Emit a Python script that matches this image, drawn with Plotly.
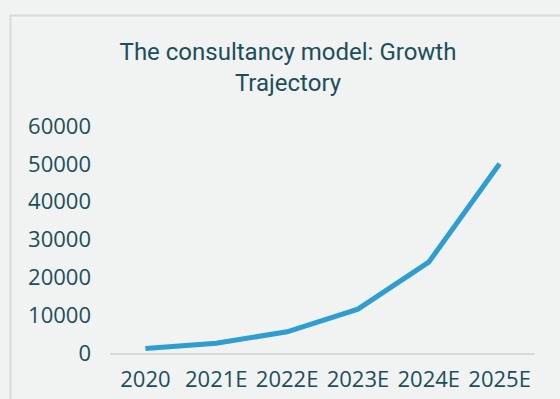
import plotly.graph_objects as go

categories = ["2020", "2021E", "2022E", "2023E", "2024E", "2025E"]
values = [1200, 2600, 5600, 11600, 24000, 50000]
y_ticks = [0, 10000, 20000, 30000, 40000, 50000, 60000]
y_tick_labels = ["0", "10000", "20000", "30000", "40000", "50000", "60000"]

TEXT = "#1b4f5b"
BG = "#f1f2f2"
FONT = "Open Sans"
TFONT = "Roboto"

W, H = 560, 399
L, R, T, B = 110, 25, 126, 46
pw, ph = W - L - R, H - T - B

def px_x(x):
    return (x - L) / pw

def px_y(y):
    return (H - B - y) / ph

fig = go.Figure(go.Scatter(
    x=categories, y=values, mode="lines",
    line=dict(color="#2e9dd0", width=5), hoverinfo="skip",
))

fig.update_layout(
    width=W, height=H,
    margin=dict(l=L, r=R, t=T, b=B, autoexpand=False),
    paper_bgcolor=BG, plot_bgcolor=BG,
    showlegend=False,
    font=dict(family=FONT, color=TEXT, size=22),
    title=dict(
        text="The consultancy model: Growth<br>Trajectory",
        x=px_x(288), xref="paper", xanchor="center",
        y=1 - 60 / H, yanchor="top", yref="container",
        font=dict(family=TFONT, size=24, color=TEXT),
    ),
    xaxis=dict(
        type="category", range=[-0.5, 5.5], automargin=False,
        showgrid=False, zeroline=False,
        showline=True, linecolor="#d9d9d9", linewidth=2,
        ticks="", ticklabelstandoff=6,
        tickfont=dict(size=22, color=TEXT, family=FONT),
    ),
    yaxis=dict(
        range=[0, 60000], tickvals=y_ticks, ticktext=y_tick_labels,
        automargin=False,
        showgrid=False, zeroline=False, showline=False,
        ticks="", ticklabelstandoff=18,
        tickfont=dict(size=22, color=TEXT, family=FONT),
    ),
    shapes=[dict(
        type="rect", xref="paper", yref="paper", layer="below",
        x0=px_x(10.5), x1=px_x(570), y0=px_y(410), y1=px_y(15.5),
        line=dict(color="#d9d9d9", width=2), fillcolor=BG,
    )],
)

fig.write_html("out.html")
